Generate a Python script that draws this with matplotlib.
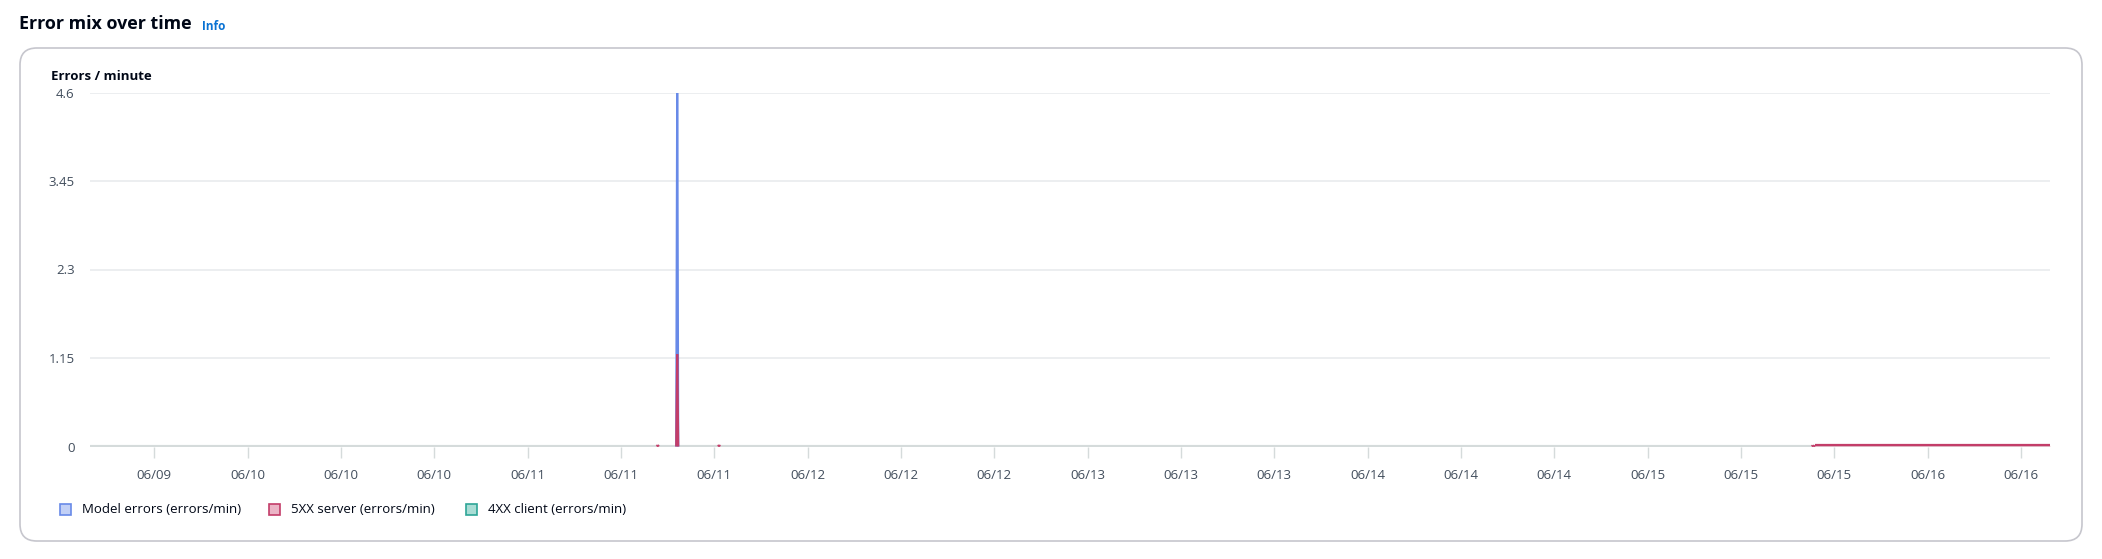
import numpy as np
import pandas as pd
import matplotlib
matplotlib.use("Agg")
import matplotlib.pyplot as plt
import matplotlib.dates as mdates
from matplotlib.collections import LineCollection
from matplotlib.patches import FancyBboxPatch, Rectangle

plt.rcParams['font.family'] = ['Open Sans', 'DejaVu Sans']

# time grid (breakpoints of the series) and values per series
times = pd.to_datetime([
    "2025-06-09 10:30", "2025-06-11 11:05", "2025-06-11 11:10", "2025-06-11 11:15",
    "2025-06-11 12:45", "2025-06-11 12:50", "2025-06-11 12:55",
    "2025-06-11 16:20", "2025-06-11 16:25", "2025-06-11 16:30",
    "2025-06-15 14:05", "2025-06-15 14:10", "2025-06-15 14:15", "2025-06-15 14:20",
    "2025-06-15 14:25", "2025-06-16 10:30",
])
model_errors = [0, 0, 0, 0, 0, 4.6, 0, 0, 0, 0, 0, 0, 0, 0, 0, 0]
server_5xx = [0, 0, 0.02, 0, 0, 1.2, 0, 0, 0.02, 0, 0, 0.015, 0, 0.015, 0.015, 0.015]
client_4xx = [0, 0, 0, 0, 0, 0, 0, 0, 0, 0, 0, 0, 0, 0, 0, 0]

series_names = ["Model errors (errors/min)", "5XX server (errors/min)", "4XX client (errors/min)"]
line_colors = ["#688ae8", "#c33d69", "#2ea597"]
fill_colors = ["#c2d0f6", "#ebb4c6", "#a9ddd5"]
y_ticks = [0, 1.15, 2.3, 3.45, 4.6]
y_tick_labels = ["0", "1.15", "2.3", "3.45", "4.6"]
x_start = pd.Timestamp("2025-06-09 10:30")
x_end = pd.Timestamp("2025-06-16 10:30")

W, H = 2102, 559
fig = plt.figure(figsize=(W / 100, H / 100), dpi=100)
fig.patch.set_facecolor("white")


def fx(x):
    return x / W


def fy(y):
    return 1 - y / H


text_dark = "#000716"
text_grey = "#414d5c"

# header
fig.text(fx(19), fy(24), "Error mix over time", fontsize=12.9, fontweight="bold",
         color=text_dark, va="center", ha="left")
fig.text(fx(202), fy(26), "Info", fontsize=8.5, fontweight="bold",
         color="#0972d3", va="center", ha="left")

# card container
card = FancyBboxPatch((fx(20), fy(541)), fx(2062), (541 - 48) / H,
                      boxstyle="round,pad=0,rounding_size=0.008",
                      transform=fig.transFigure, facecolor="white",
                      edgecolor="#c6c6cd", linewidth=1.2, mutation_aspect=W / H,
                      zorder=-5)
fig.add_artist(card)

fig.text(fx(51), fy(77), "Errors / minute", fontsize=9.5, fontweight="bold",
         color=text_dark, va="center", ha="left")

ax = fig.add_axes([fx(90), fy(446.5), fx(2050 - 90), (446.5 - 92.5) / H])
ax.set_facecolor("none")
ax.set_zorder(2)

tnum = mdates.date2num(times)
data = [model_errors, server_5xx, client_4xx]
for vals, lc, fc in zip(data, line_colors, fill_colors):
    vals = np.array(vals, dtype=float)
    if not vals.any():
        continue
    ax.fill_between(times, 0, vals, color=fc, alpha=0.6, linewidth=0, zorder=3)
    # stroke only the segments that leave the zero baseline
    segs = [[(tnum[i], vals[i]), (tnum[i + 1], vals[i + 1])]
            for i in range(len(vals) - 1) if vals[i] > 0 or vals[i + 1] > 0]
    ax.add_collection(LineCollection(segs, colors=lc, linewidths=1.6, zorder=4,
                                     capstyle="butt"))

ax.set_xlim(x_start, x_end)
ax.set_ylim(0, 4.6)
ax.set_yticks(y_ticks)
ax.set_yticklabels(y_tick_labels)
for yv in y_ticks[1:]:
    ax.axhline(yv, color="#e9ebed", linewidth=1.2, zorder=1)
ax.axhline(0, color="#d5dbdb", linewidth=3, zorder=2)

ax.xaxis.set_major_locator(mdates.HourLocator(byhour=[0, 8, 16]))
ax.xaxis.set_major_formatter(mdates.DateFormatter("%m/%d"))
ax.tick_params(axis="x", length=8, width=1, color="#d5dbdb", pad=8,
               labelsize=9.5, labelcolor=text_grey)
ax.tick_params(axis="y", length=0, pad=11, labelsize=9.5, labelcolor=text_grey)
for s in ax.spines.values():
    s.set_visible(False)

# legend
legend_x = [59, 268, 465]
for name, lc, fc, lx in zip(series_names, line_colors, fill_colors, legend_x):
    fig.add_artist(Rectangle((fx(lx + 0.5), fy(514.5)), fx(11), 11 / H,
                             transform=fig.transFigure, facecolor=fc,
                             edgecolor=lc, linewidth=1.2))
    fig.text(fx(lx + 23), fy(509.5), name, fontsize=9.5, color=text_dark,
             va="center", ha="left")

fig.savefig("out.png", dpi=100, facecolor="white")
